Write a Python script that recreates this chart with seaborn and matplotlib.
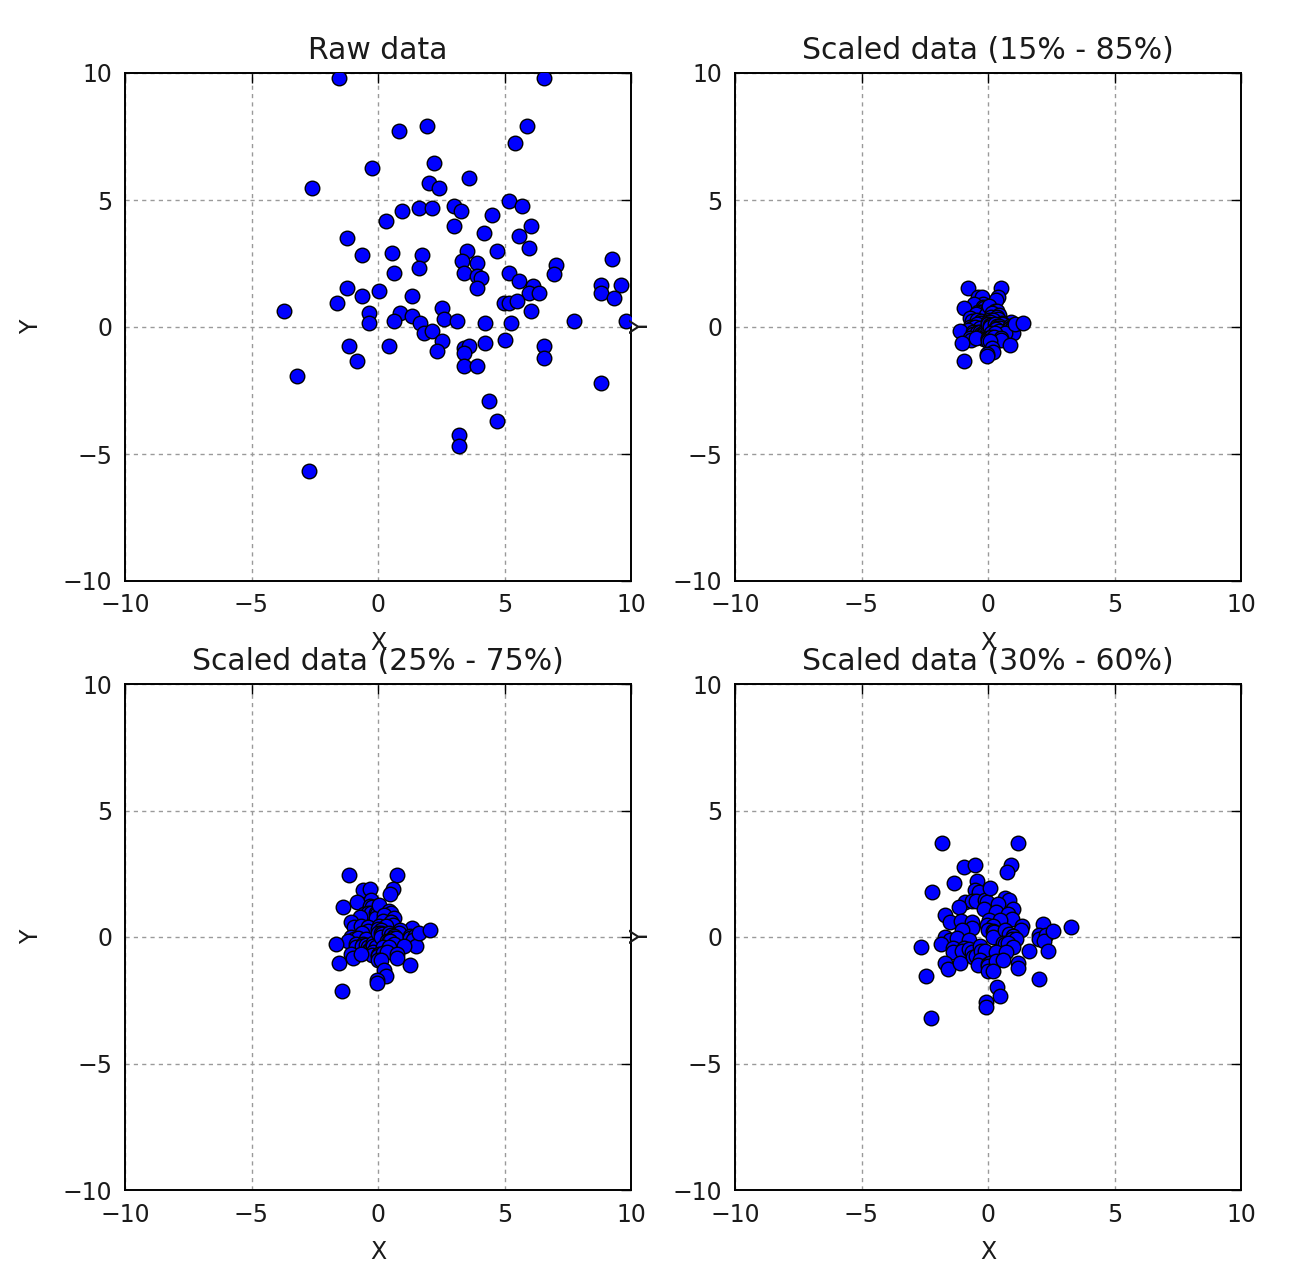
import numpy as np
import pandas as pd
import matplotlib
matplotlib.use("Agg")
import matplotlib.pyplot as plt
import seaborn as sns

# Raw data (last two points lie beyond x=10)
raw_x = [-1.55, 0.84, 1.95, 2.21, -0.24, 2.03, 2.42, -2.62, 0.94, 1.63,
         2.13, 3.02, 3.30, 0.32, 3.00, -1.22, -0.62, 0.55, 1.73, 6.57,
         5.88, 5.40, 3.61, 5.18, 5.68, 4.49, 6.06, 4.20, 5.57, 5.97,
         3.53, 4.69, 9.24, 1.63, 0.63, -1.24, -0.63, 0.05, 1.33, -1.63,
         -3.72, -0.34, -0.34, 0.87, 0.63, 1.33, 1.66, 1.83, 2.15, 2.52,
         2.61, 3.11, 2.52, 2.32, -1.15, -0.84, 0.45, -3.19, -2.72, 3.31,
         3.93, 3.40, 3.93, 4.08, 3.90, 7.05, 6.96, 5.18, 5.59, 6.11,
         5.98, 6.37, 4.98, 5.18, 5.51, 6.06, 8.83, 8.83, 9.62, 9.33,
         9.82, 7.76, 4.23, 5.27, 3.40, 3.61, 3.40, 4.23, 5.00, 6.57,
         6.57, 3.40, 3.93, 8.83, 4.40, 4.72, 3.21, 3.21, 10.3, 12.3]
raw_y = [9.80, 7.73, 7.91, 6.44, 6.25, 5.66, 5.46, 5.46, 4.58, 4.70,
         4.70, 4.78, 4.58, 4.17, 3.99, 3.49, 2.83, 2.93, 2.83, 9.79,
         7.91, 7.23, 5.85, 4.96, 4.78, 4.39, 3.99, 3.69, 3.58, 3.10,
         3.00, 3.00, 2.66, 2.31, 2.11, 1.52, 1.23, 1.43, 1.23, 0.93,
         0.63, 0.56, 0.14, 0.56, 0.25, 0.44, 0.14, -0.25, -0.14, 0.74,
         0.31, 0.24, -0.54, -0.93, -0.75, -1.33, -0.75, -1.93, -5.66, 2.61,
         2.51, 2.11, 2.01, 1.91, 1.52, 2.44, 2.09, 2.11, 1.81, 1.63,
         1.33, 1.33, 0.96, 0.93, 1.02, 0.63, 1.65, 1.33, 1.65, 1.13,
         0.25, 0.25, 0.17, 0.17, -0.84, -0.75, -1.04, -0.64, -0.51, -0.75,
         -1.23, -1.54, -1.54, -2.22, -2.90, -3.70, -4.25, -4.69, 2.07, 2.4]

# Robust scaling: centre (median) and quantile-range widths
quantile_ranges = [(15, 85), (25, 75), (30, 60)]
center_xy = [3.39, 1.51]
range_x = [6.39, 4.30, 2.70]
range_y = [5.35, 3.38, 2.24]

titles = ["Raw data"] + ["Scaled data (%d%% - %d%%)" % q for q in quantile_ranges]
ticks = [-10, -5, 0, 5, 10]
tick_labels = ["\u221210", "\u22125", "0", "5", "10"]

raw = pd.DataFrame({"X": raw_x, "Y": raw_y})
datasets = [raw]
for rx, ry in zip(range_x, range_y):
    datasets.append(pd.DataFrame({"X": (raw["X"] - center_xy[0]) / rx,
                                  "Y": (raw["Y"] - center_xy[1]) / ry}))

sns.set_theme(style="white")
plt.rcParams["font.family"] = ["DejaVu Sans"]

W, H = 1301, 1283
fig = plt.figure(figsize=(W / 100, H / 100), dpi=100)

boxes = [(125, 73, 631, 581), (735, 73, 1241, 581),
         (125, 684, 631, 1190), (735, 684, 1241, 1190)]

for (x0, y0, x1, y1), df, title in zip(boxes, datasets, titles):
    ax = fig.add_axes([x0 / W, 1 - y1 / H, (x1 - x0) / W, (y1 - y0) / H])
    sns.scatterplot(data=df, x="X", y="Y", ax=ax, color="#0000ff",
                    edgecolor="black", linewidth=1.0, s=110, zorder=3)
    ax.set_xlim(-10, 10)
    ax.set_ylim(-10, 10)
    ax.set_xticks(ticks)
    ax.set_yticks(ticks)
    ax.set_xticklabels(tick_labels)
    ax.set_yticklabels(tick_labels)
    ax.grid(True, color="#9a9a9a", linestyle=(0, (3, 3)), linewidth=1.0, zorder=0)
    ax.set_axisbelow(True)
    for sp in ax.spines.values():
        sp.set_visible(True)
        sp.set_color("black")
        sp.set_linewidth(1.4)
    ax.tick_params(direction="in", length=7, width=1, top=True, right=True,
                   labelsize=17, colors="black", labelcolor="#1a1a1a", pad=9)
    ax.set_title(title, fontsize=21.5, color="#1a1a1a", pad=10)
    ax.set_xlabel("X", fontsize=17, color="#1a1a1a")
    ax.set_ylabel("Y", fontsize=17, color="#1a1a1a")
    ax.xaxis.set_label_coords(0.5, -50 / (y1 - y0))
    ax.yaxis.set_label_coords(-82 / (x1 - x0), 0.5)

fig.savefig("out.png", dpi=100, facecolor="white")
